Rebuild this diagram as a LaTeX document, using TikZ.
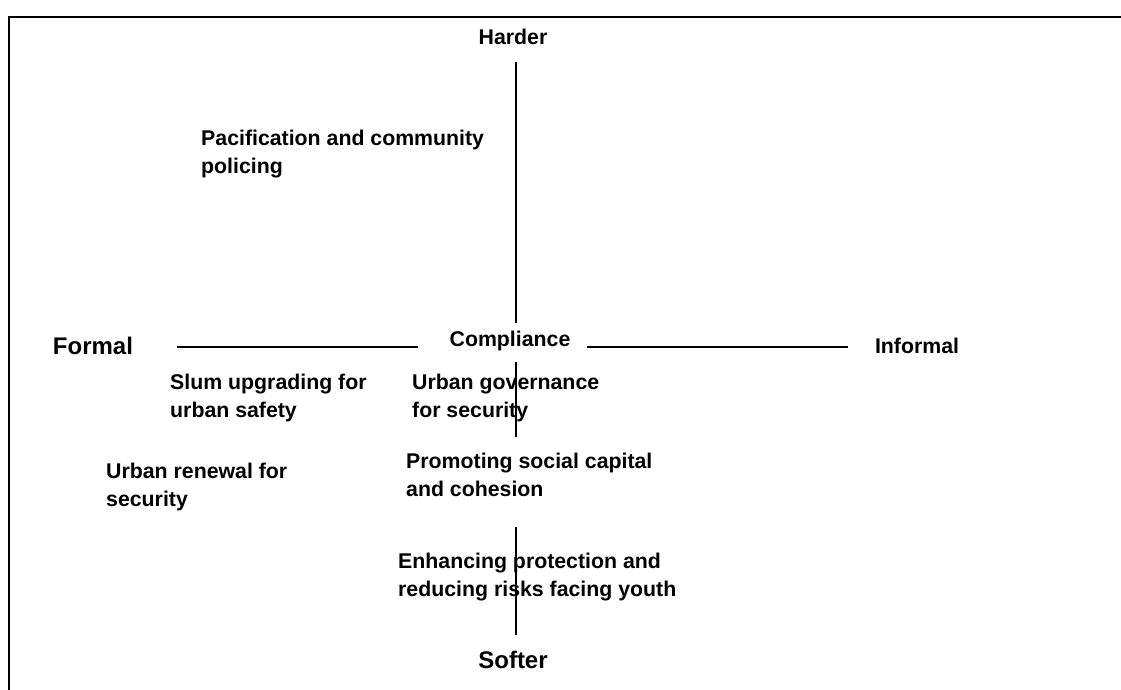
\documentclass[tikz,border=0pt]{standalone}
\usepackage{fontspec}
\setmainfont{Liberation Sans}
\usepackage{tikz}

\tikzset{
  lbl/.style={font=\fontsize{21.3}{28}\selectfont\bfseries,inner sep=0pt},
  biglbl/.style={font=\fontsize{24}{28}\selectfont\bfseries,inner sep=0pt},
  item/.style={lbl,align=left,anchor=west},
  axis/.style={draw=black,line width=1.6pt}
}

\begin{document}
\begin{tikzpicture}[x=1pt,y=-1pt]
	\useasboundingbox (0,0) rectangle (1121,690);
	\clip (0,0) rectangle (1121,690);
	\draw[line width=1.5pt] (9,17) rectangle (1140,710);

	% axis labels
	\node[lbl] (harder) at (513,37) {Harder};
	\node[biglbl] (softer) at (513,660) {Softer};
	\node[biglbl] (formal) at (93,346) {Formal};
	\node[lbl] (informal) at (917,346) {Informal};
	\node[lbl] (comp) at (510,341) {Compliance};

	% axis ends
	\coordinate (t1) at (516,62);
	\coordinate (t2) at (516,323);
	\coordinate (m1) at (516,362);
	\coordinate (m2) at (516,437);
	\coordinate (b1) at (516,527);
	\coordinate (b2) at (516,635);
	\coordinate (l1) at (177,347);
	\coordinate (l2) at (418,347);
	\coordinate (r1) at (587,347);
	\coordinate (r2) at (848,347);

	\draw[axis] (t1) -- (t2);
	\draw[axis] (m1) -- (m2);
	\draw[axis] (b1) -- (b2);
	\draw[axis] (l1) -- (l2);
	\draw[axis] (r1) -- (r2);

	% policies
	\node[item] (pac) at (201,154) {Pacification and community\\policing};
	\node[item] (slum) at (170,398) {Slum upgrading for\\urban safety};
	\node[item] (gov) at (412,398) {Urban governance\\for security};
	\node[item] (ren) at (106,487) {Urban renewal for\\security};
	\node[item] (soc) at (406,475) {Promoting social capital\\and cohesion};
	\node[item] (youth) at (398,577) {Enhancing protection and\\reducing risks facing youth};
\end{tikzpicture}
\end{document}
